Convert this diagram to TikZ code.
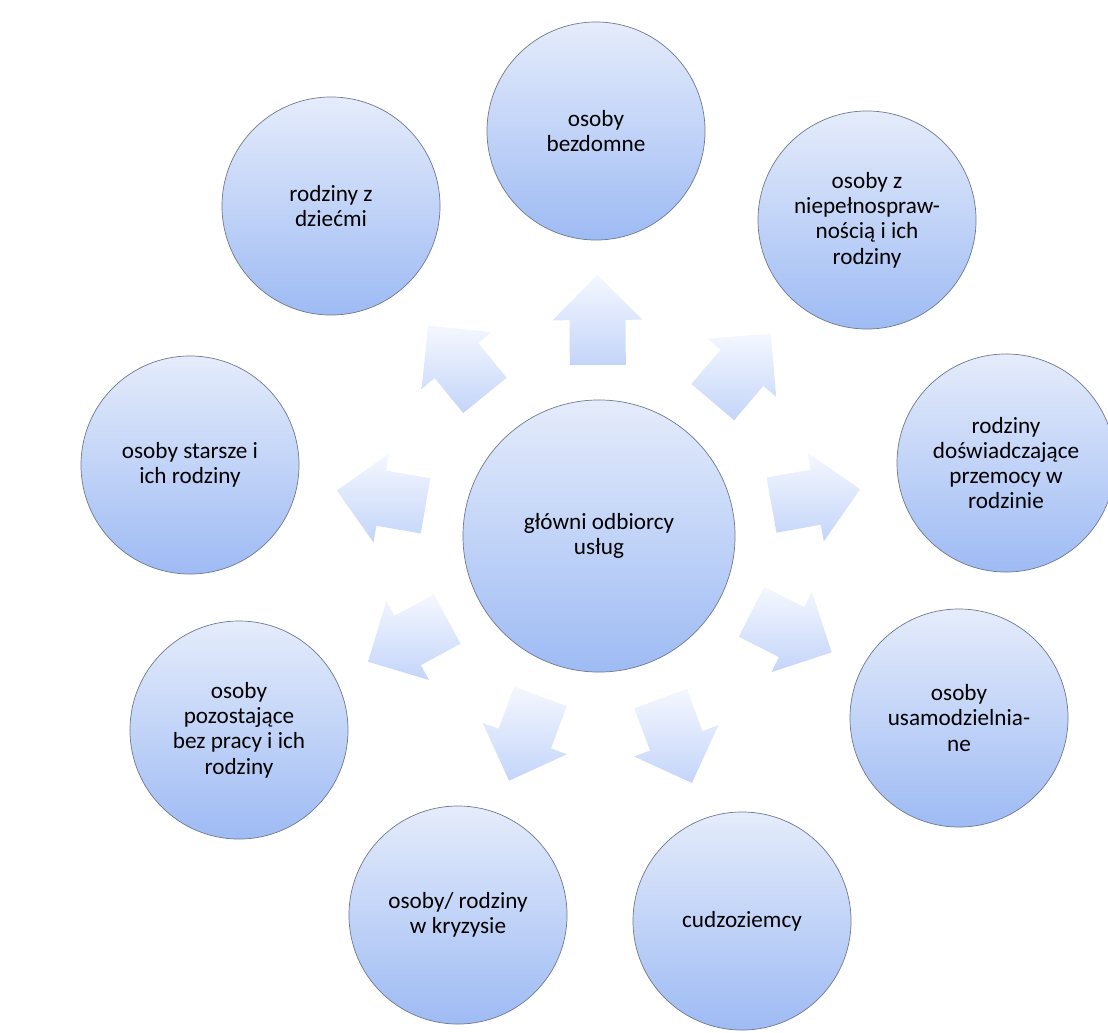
\documentclass[tikz,border=0pt]{standalone}
\usepackage{fontspec}
\setmainfont{Carlito}
\usetikzlibrary{calc}
\definecolor{skytop}{RGB}{229,236,251}
\definecolor{skybot}{RGB}{158,187,244}
\definecolor{rim}{RGB}{112,122,142}
\definecolor{pushtop}{RGB}{244,247,254}
\definecolor{pushbot}{RGB}{196,213,250}
\tikzset{
  client/.style={circle,draw=rim,line width=0.5pt,top color=skytop,bottom color=skybot,
    minimum size=5.45cm,inner sep=0pt,align=center,font=\fontsize{16.5}{18}\selectfont},
  hub/.style={client,minimum size=6.8cm},
  push/.style={top color=pushtop,bottom color=pushbot,draw=none},
}
\begin{document}
\begin{tikzpicture}[x=0.025cm,y=-0.025cm]
  \useasboundingbox (0,0) rectangle (1108,1032);
  % centre
  \node[hub] (main) at (599,536) {główni odbiorcy\\usług};
  % outer ring
  \node[client] (bezdomne) at (596,131) {osoby\\bezdomne};
  \node[client] (niepelno) at (867,220) {osoby z\\niepełnospraw-\\nością i ich\\rodziny};
  \node[client] (przemoc) at (1006,463) {rodziny\\doświadczające\\przemocy w\\rodzinie};
  \node[client] (usamodz) at (959,718) {osoby\\usamodzielnia-\\ne};
  \node[client] (cudzoz) at (742,921) {cudzoziemcy};
  \node[client] (kryzys) at (458,915) {osoby/ rodziny\\w kryzysie};
  \node[client] (bezrob) at (239,730) {osoby\\pozostające\\bez pracy i ich\\rodziny};
  \node[client] (starsze) at (190,465) {osoby starsze i\\ich rodziny};
  \node[client] (dzieci) at (331,206) {rodziny z\\dziećmi};
  % block arrows, halfway across each gap
  \foreach \t in {bezdomne,niepelno,przemoc,usamodz,cudzoz,kryzys,bezrob,starsze,dzieci}{
    \path[push] let \p1=($(\t)-(main)$), \n1={atan2(\y1,\x1)}, \n2={\n1+180},
      \p2=($(main.\n1)!0.5!(\t.\n2)$) in [shift={(\p2)},rotate=\n1]
      (-45,-28) -- (0,-28) -- (0,-45) -- (45,0) -- (0,45) -- (0,28) -- (-45,28) -- cycle;
  }
\end{tikzpicture}
\end{document}
